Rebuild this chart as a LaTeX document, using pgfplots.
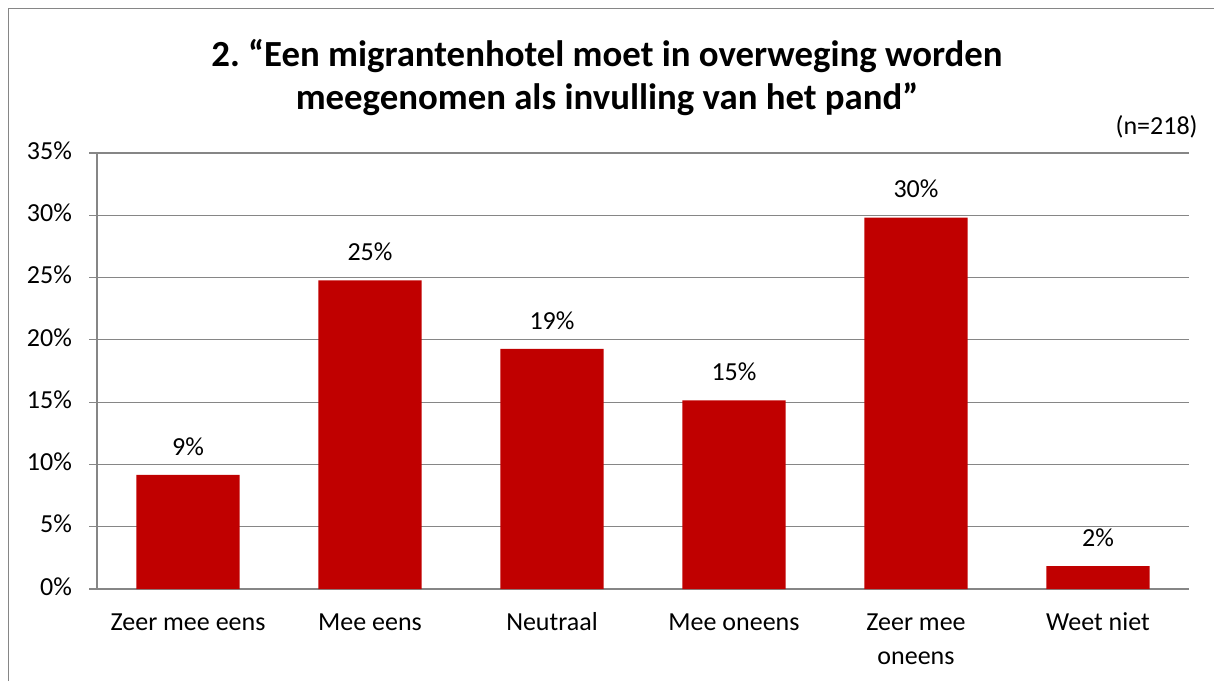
\documentclass[border=0pt]{standalone}
\usepackage{fontspec}
\setmainfont{Carlito}
\usepackage{pgfplots}
\pgfplotsset{compat=1.18}
\definecolor{barred}{HTML}{C00000}
\definecolor{gridgray}{HTML}{868686}
\frenchspacing
\begin{document}
\begin{tikzpicture}[x=0.5pt,y=0.5pt]
\path[use as bounding box] (0,0) rectangle (1214,681);
\draw[gridgray, line width=0.9pt] (8.5,0) -- (8.5,672.5) -- (1214,672.5);
\node[font=\fontsize{18.4}{21.5}\selectfont\bfseries, align=center] at (607,603) {2. “Een migrantenhotel moet in overweging worden\\meegenomen als invulling van het pand”};
\node[font=\fontsize{13}{15.6}\selectfont, anchor=base east, inner sep=0pt] at (1198,546) {(n=218)};
\begin{axis}[
  at={(48.5pt,46pt)}, anchor=south west,
  scale only axis, width=546pt, height=218pt,
  xmin=-0.5, xmax=5.5, ymin=0, ymax=35,
  axis x line*=bottom, axis y line*=left,
  axis line style={gridgray, -, line width=0.6pt},
  ytick={0,5,...,35},
  yticklabels={0\%,5\%,10\%,15\%,20\%,25\%,30\%,35\%},
  ymajorgrids, grid style={gridgray, line width=0.6pt},
  xtick={0,...,5},
  xticklabels={Zeer mee eens, Mee eens, Neutraal, Mee oneens, {Zeer mee\\oneens}, Weet niet},
  typeset ticklabels with strut,
  xticklabel style={align=center, font=\fontsize{13}{17}\selectfont, yshift=-1.5pt},
  yticklabel style={font=\fontsize{13}{15.6}\selectfont, xshift=-5pt},
  xtick style={draw=none},
  minor xtick={-0.5,0.5,...,5.5},
  minor tick length=4pt, major tick length=4pt,
  tick align=outside,
  minor x tick style={gridgray, line width=0.6pt},
  ytick style={gridgray, line width=0.6pt},
  ybar, bar width=51.6pt,
  /pgf/number format/assume math mode=true,
  nodes near coords={\pgfmathprintnumber[fixed,precision=0,assume math mode=true]{\pgfplotspointmeta}\%},
  every node near coord/.append style={font=\fontsize{13}{15.6}\selectfont, text=black, inner sep=0pt, yshift=9.5pt},
]
\addplot[fill=barred, draw=none] coordinates {(0,9.17) (1,24.77) (2,19.27) (3,15.14) (4,29.82) (5,1.83)};
\end{axis}
\end{tikzpicture}
\end{document}
